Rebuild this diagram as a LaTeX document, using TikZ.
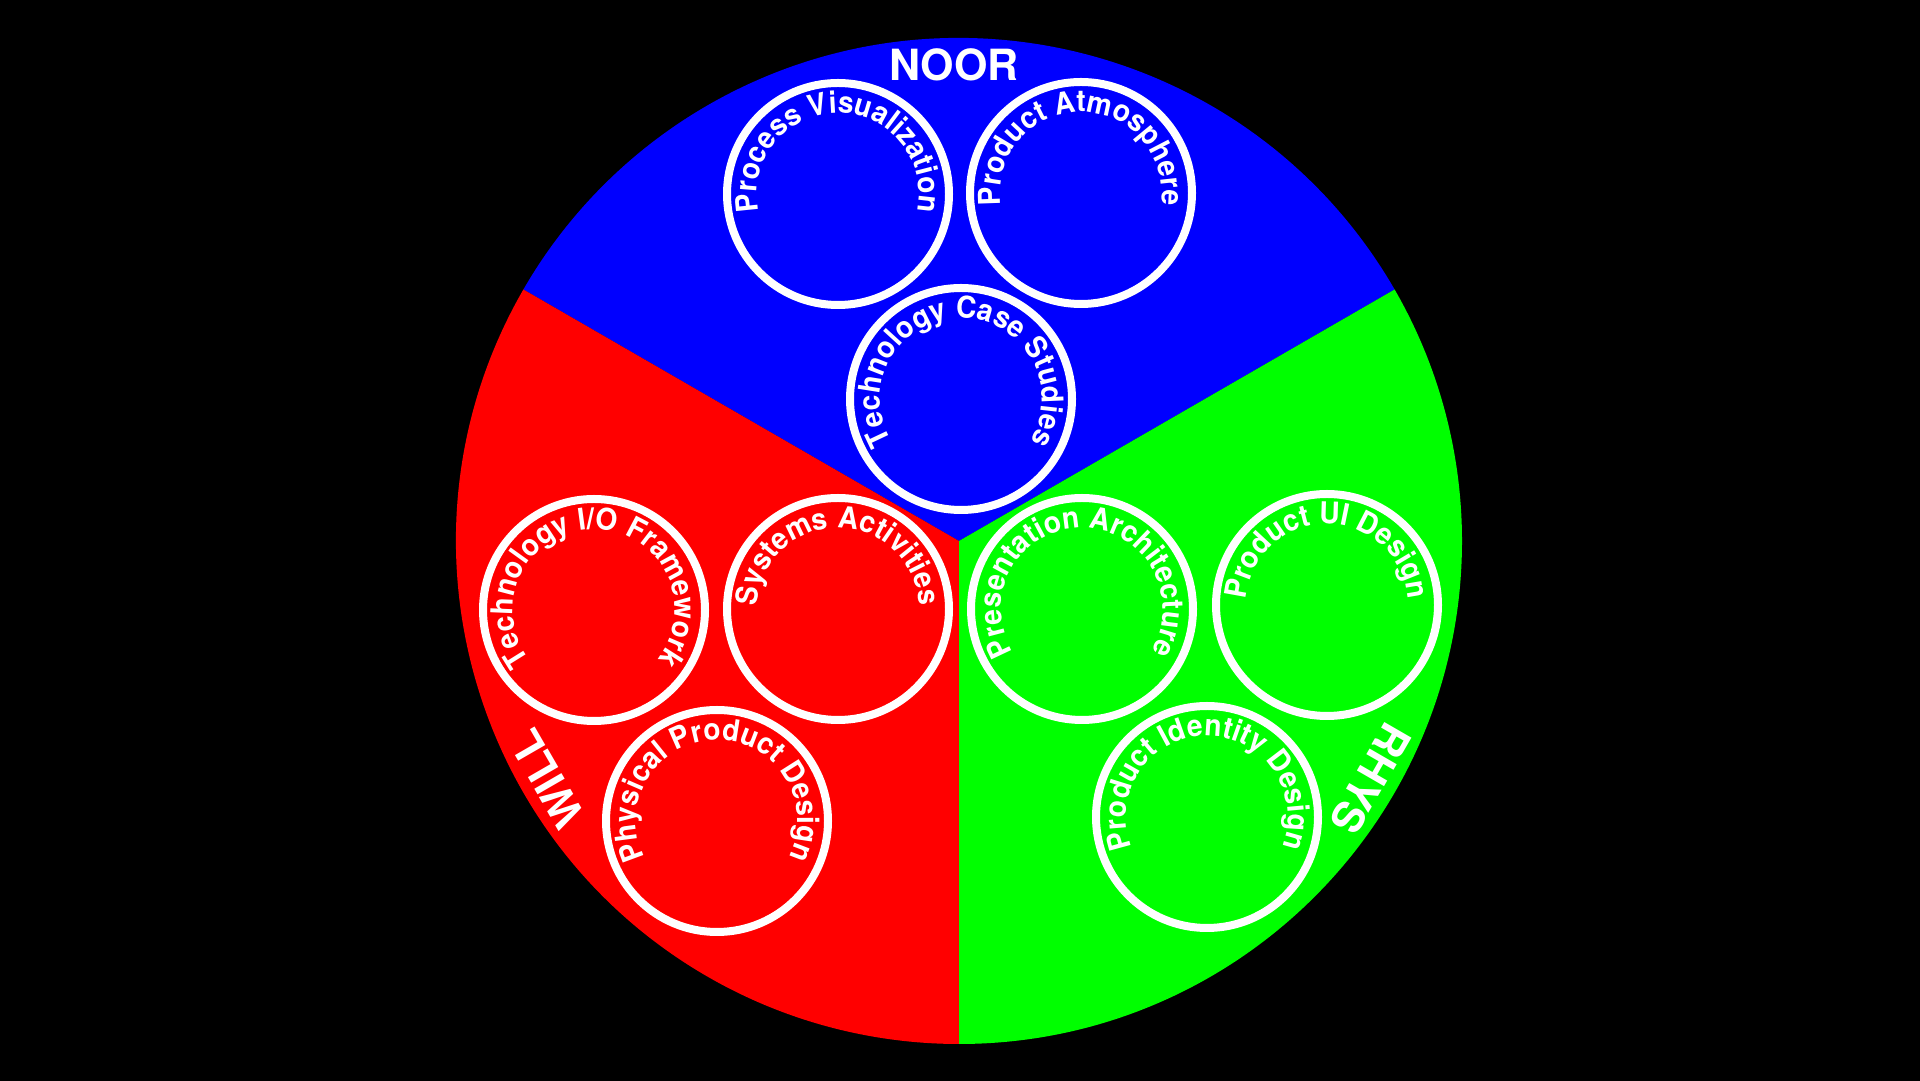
\documentclass[tikz,border=0pt]{standalone}
\usepackage{fontspec}
\setmainfont{TeX Gyre Heros}
\newfontfamily\arcfam[FakeStretch=0.94]{TeX Gyre Heros}
\usetikzlibrary{decorations.text,calc}
\definecolor{sblue}{RGB}{0,0,255}
\definecolor{sred}{RGB}{255,0,0}
\definecolor{sgreen}{RGB}{0,255,0}
\newcommand{\arcfont}{\arcfam\fontsize{30}{32}\selectfont\bfseries}
\tikzset{
  ring/.style={circle, draw=white, line width=8pt, minimum size=222pt, inner sep=0pt},
  bigname/.style={text=white, font=\fontsize{43}{45}\selectfont\bfseries, anchor=base, inner sep=0pt},
}
\newcommand{\arctext}[2]{%
  \path[decorate, decoration={text along path, text align=center, text color=white,
     text={|\arcfont|#2}}]
     ($(#1)+(270:81pt)$) arc[start angle=270, end angle=-90, radius=81pt];}
\begin{document}
\begin{tikzpicture}[x=1pt,y=1pt]
\useasboundingbox (0,0) rectangle (1920,1081);
\fill[black] (0,0) rectangle (1920,1081);
\coordinate (c) at (959,540);
\fill[sblue] (c) -- ++(30:503pt) arc[start angle=30, end angle=150, radius=503pt] -- cycle;
\fill[sred] (c) -- ++(150:503pt) arc[start angle=150, end angle=270, radius=503pt] -- cycle;
\fill[sgreen] (c) -- ++(270:503pt) arc[start angle=270, end angle=390, radius=503pt] -- cycle;

\node[ring] (pv) at (838,887) {};
\node[ring] (pa) at (1081,888) {};
\node[ring] (tcs) at (961,682) {};
\node[ring] (tio) at (594,471) {};
\node[ring] (sa) at (838,472) {};
\node[ring] (ppd) at (717,260) {};
\node[ring] (pres) at (1082,472) {};
\node[ring] (ui) at (1327,476) {};
\node[ring] (pid) at (1207,264) {};

\arctext{pv}{Process Visualization}
\arctext{pa}{Product Atmosphere}
\arctext{tcs}{Technology Case Studies}
\arctext{tio}{Technology I/O Framework}
\arctext{sa}{Systems Activities}
\arctext{ppd}{Physical Product Design}
\arctext{pres}{Presentation Architecture}
\arctext{ui}{Product UI Design}
\arctext{pid}{Product Identity Design}

\node[bigname] (noor) at ($(c)+(-5,460)$) {NOOR};
\node[bigname, rotate=120] (will) at ($(c)+(210:460pt)$) {WILL};
\node[bigname, rotate=-120] (rhys) at ($(c)+(330:460pt)$) {RHYS};
\end{tikzpicture}
\end{document}
